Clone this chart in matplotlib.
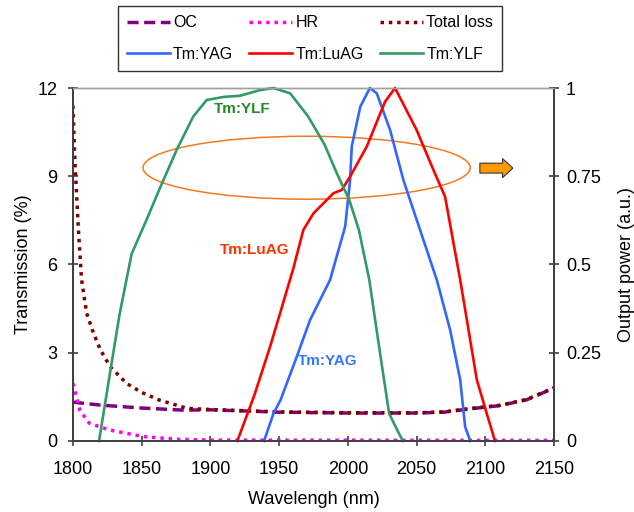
import matplotlib
matplotlib.use("Agg")
import matplotlib.pyplot as plt
from matplotlib.patches import Ellipse, FancyArrow
from matplotlib.lines import Line2D

plt.rcParams['font.family'] = ['Liberation Sans', 'DejaVu Sans']

# Mirror transmissions (%)
oc_wl = [1800, 1820, 1850, 1880, 1900, 1950, 2000, 2050, 2070, 2090, 2110, 2130, 2150]
oc_t = [1.32, 1.22, 1.12, 1.05, 1.06, 0.98, 0.95, 0.95, 0.98, 1.1, 1.2, 1.4, 1.8]

hr_wl = [1800, 1805, 1812, 1827, 1851, 1875, 1900, 2150]
hr_t = [1.96, 1.05, 0.6, 0.37, 0.15, 0.06, 0.03, 0.02]

loss_wl = [1800, 1801.5, 1804, 1806.3, 1810, 1815, 1820, 1827, 1839, 1850, 1863,
           1883, 1900, 1950, 2000, 2050, 2070, 2090, 2110, 2130, 2150]
loss_t = [11.4, 9.45, 7.18, 5.48, 4.34, 3.66, 3.1, 2.53, 1.96, 1.65, 1.39,
          1.11, 1.07, 0.99, 0.96, 0.96, 0.99, 1.11, 1.21, 1.41, 1.81]

# Normalised laser output power
yag_wl = [1939, 1946, 1951, 1962, 1972.5, 1987, 1998, 2001.6, 2002.8, 2009, 2016,
          2021, 2030.7, 2040.4, 2052.5, 2064.7, 2074.4, 2081.7, 2085.3, 2089]
yag_p = [0, 0.079, 0.116, 0.23, 0.343, 0.456, 0.607, 0.739, 0.834, 0.947, 1.0,
         0.985, 0.881, 0.739, 0.598, 0.456, 0.314, 0.173, 0.04, 0]

luag_wl = [1919.6, 1932, 1943.4, 1950.7, 1960.4, 1967.6, 1975, 1989.5, 1995.5, 2001.6,
           2013.7, 2027, 2034.3, 2050, 2062.2, 2070.7, 2081.7, 2093.8, 2101, 2107]
luag_p = [0, 0.13, 0.267, 0.362, 0.49, 0.598, 0.645, 0.702, 0.711, 0.749,
          0.834, 0.961, 1.0, 0.881, 0.768, 0.692, 0.456, 0.173, 0.078, 0]

ylf_wl = [1819, 1827, 1834, 1842.7, 1853.6, 1863, 1875.5, 1887.5, 1897.3, 1910, 1921.5,
          1936, 1945.8, 1958, 1971, 1983, 1992, 2001, 2008, 2015.6, 2022.7, 2030, 2036, 2040]
ylf_p = [0, 0.193, 0.36, 0.53, 0.627, 0.714, 0.825, 0.919, 0.966, 0.975, 0.978,
         0.994, 1.0, 0.985, 0.92, 0.84, 0.758, 0.683, 0.598, 0.456, 0.267, 0.078, 0.03, 0]

x_ticks = [1800, 1850, 1900, 1950, 2000, 2050, 2100, 2150]
t_ticks = [0, 3, 6, 9, 12]
p_ticks = [0, 0.25, 0.5, 0.75, 1]
p_labels = ['0', '0.25', '0.5', '0.75', '1']

C_OC = '#800080'
C_HR = '#FF00FF'
C_LOSS = '#800000'
C_YAG = '#3366FF'
C_LUAG = '#FF0000'
C_YLF = '#339966'
AX_C = '#404040'

fig = plt.figure(figsize=(6.34, 5.12), dpi=100)
ax = fig.add_axes([0.115, 0.1387, 0.759, 0.6894])
ax2 = ax.twinx()

ax.plot(oc_wl, oc_t, color=C_OC, lw=2.5, dashes=(3.2, 1.6), dash_capstyle='butt', zorder=3)
ax.plot(hr_wl, hr_t, color=C_HR, lw=2.5, dashes=(1.0, 1.4), dash_capstyle='butt', zorder=3)
ax.plot(loss_wl, loss_t, color=C_LOSS, lw=2.5, dashes=(1.0, 1.4), dash_capstyle='butt', zorder=3)

ax2.plot(yag_wl, yag_p, color=C_YAG, lw=1.9, clip_on=False)
ax2.plot(luag_wl, luag_p, color=C_LUAG, lw=1.9, clip_on=False)
ax2.plot(ylf_wl, ylf_p, color=C_YLF, lw=1.9, clip_on=False)

ax.set_xlim(1800, 2150)
ax.set_ylim(0, 12)
ax2.set_ylim(0, 1)
ax.set_xticks(x_ticks)
ax.set_yticks(t_ticks)
ax2.set_yticks(p_ticks)
ax2.set_yticklabels(p_labels)

for a in (ax, ax2):
    for s in ('left', 'right', 'bottom'):
        a.spines[s].set_color(AX_C)
        a.spines[s].set_linewidth(1.3)
    a.spines['top'].set_color('#A0A0A0')
    a.spines['top'].set_linewidth(1.0)
    a.tick_params(direction='inout', length=7, width=1.2, color=AX_C, labelsize=13)
ax.tick_params(axis='x', pad=11)
ax.tick_params(axis='y', pad=7.5)
ax2.tick_params(axis='y', pad=5)

ax.set_xlabel('Wavelengh (nm)', fontsize=13, labelpad=9)
ax.set_ylabel('Transmission (%)', fontsize=13, labelpad=4)
ax2.set_ylabel('Output power (a.u.)', fontsize=13, labelpad=12)

# Highlight ellipse and arrow pointing to the right-hand axis
ax.add_patch(Ellipse((1970, 9.29), 238, 2.14, fill=False, edgecolor='#F07C20', lw=1.1, zorder=4))
ax2.add_patch(FancyArrow(2096, 0.773, 24, 0, width=0.028, head_width=0.054,
                         head_length=7.5, length_includes_head=True,
                         facecolor='#FF9900', edgecolor='#333333', lw=0.8, zorder=5))

ax2.text(1923, 0.94, 'Tm:YLF', color='#228B22', fontsize=11, fontweight='bold',
         ha='center', va='center')
ax2.text(1932.5, 0.54, 'Tm:LuAG', color='#FF3300', fontsize=11, fontweight='bold',
         ha='center', va='center')
ax2.text(1985, 0.227, 'Tm:YAG', color='#3377FF', fontsize=11, fontweight='bold',
         ha='center', va='center')

handles = [
    Line2D([], [], color=C_OC, lw=2.5, dashes=(3.2, 1.6), dash_capstyle='butt'),
    Line2D([], [], color=C_YAG, lw=1.9),
    Line2D([], [], color=C_HR, lw=2.5, dashes=(1.0, 1.4), dash_capstyle='butt'),
    Line2D([], [], color=C_LUAG, lw=1.9),
    Line2D([], [], color=C_LOSS, lw=2.5, dashes=(1.0, 1.4), dash_capstyle='butt'),
    Line2D([], [], color=C_YLF, lw=1.9),
]
labels = ['OC', 'Tm:YAG', 'HR', 'Tm:LuAG', 'Total loss', 'Tm:YLF']
leg = fig.legend(handles, labels, ncol=3, loc='center',
                 bbox_to_anchor=(310 / 634, 1 - 38.5 / 512),
                 fontsize=11.5, frameon=True, fancybox=False, edgecolor='black',
                 handlelength=2.7, handletextpad=0.2, columnspacing=1.0,
                 labelspacing=1.05, borderpad=0.55, borderaxespad=0)
leg.get_frame().set_linewidth(1.0)

fig.savefig('out.png', dpi=100)
